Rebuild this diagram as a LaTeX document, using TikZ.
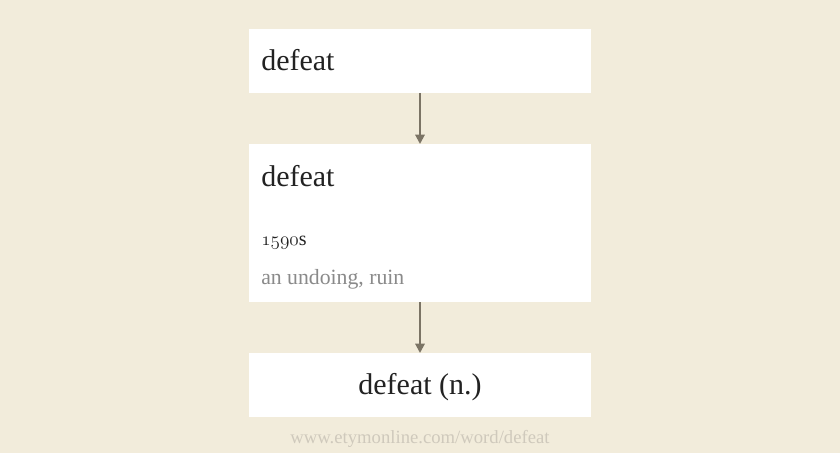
\documentclass[tikz,border=0pt]{standalone}
\usepackage{fontspec}
\setmainfont{Liberation Serif}
\usetikzlibrary{arrows.meta}
\definecolor{bgc}{HTML}{F2ECDB}
\definecolor{arrc}{HTML}{7B7465}
\definecolor{txtc}{HTML}{222222}
\definecolor{grayc}{HTML}{8A8A8A}
\definecolor{footc}{HTML}{CFC9BC}
\tikzset{
  box/.style={fill=white, draw=none},
  big/.style={font=\fontsize{22.5}{26}\selectfont, text=txtc, inner sep=0pt},
  small/.style={font=\fontsize{15}{18}\selectfont, text=txtc, inner sep=0pt},
  sense/.style={font=\fontsize{16.3}{19}\selectfont, text=grayc, inner sep=0pt},
  foot/.style={font=\fontsize{14}{17}\selectfont, text=footc, inner sep=0pt},
  conn/.style={draw=arrc, line width=1.5pt, -{Triangle[length=7pt,width=7pt]}}
}
\begin{document}
\begin{tikzpicture}[x=0.75pt,y=-0.75pt]
\fill[bgc] (0,0) rectangle (840,453);
\useasboundingbox (0,0) rectangle (840,453);
\fill[box] (249,29) rectangle (591,93);
\fill[box] (249,144) rectangle (591,302);
\fill[box] (249,353) rectangle (591,417);
\coordinate (b1s) at (420,93);
\coordinate (b2n) at (420,144);
\coordinate (b2s) at (420,302);
\coordinate (b3n) at (420,353);
\node[big, anchor=base west] (t1) at (261,71) {defeat};
\node[big, anchor=base west] (t2) at (261,186) {defeat};
\node[small, anchor=base west] (d2) at (261,245) {\legacyoldstylenums{1590}s};
\node[sense, anchor=base west] (s2) at (261,284) {an undoing, ruin};
\node[big, anchor=base] (t3) at (420,394) {defeat (n.)};
\node[foot, anchor=base] (f) at (420,443) {www.etymonline.com/word/defeat};
\draw[conn] (b1s) -- (b2n);
\draw[conn] (b2s) -- (b3n);
\end{tikzpicture}
\end{document}
